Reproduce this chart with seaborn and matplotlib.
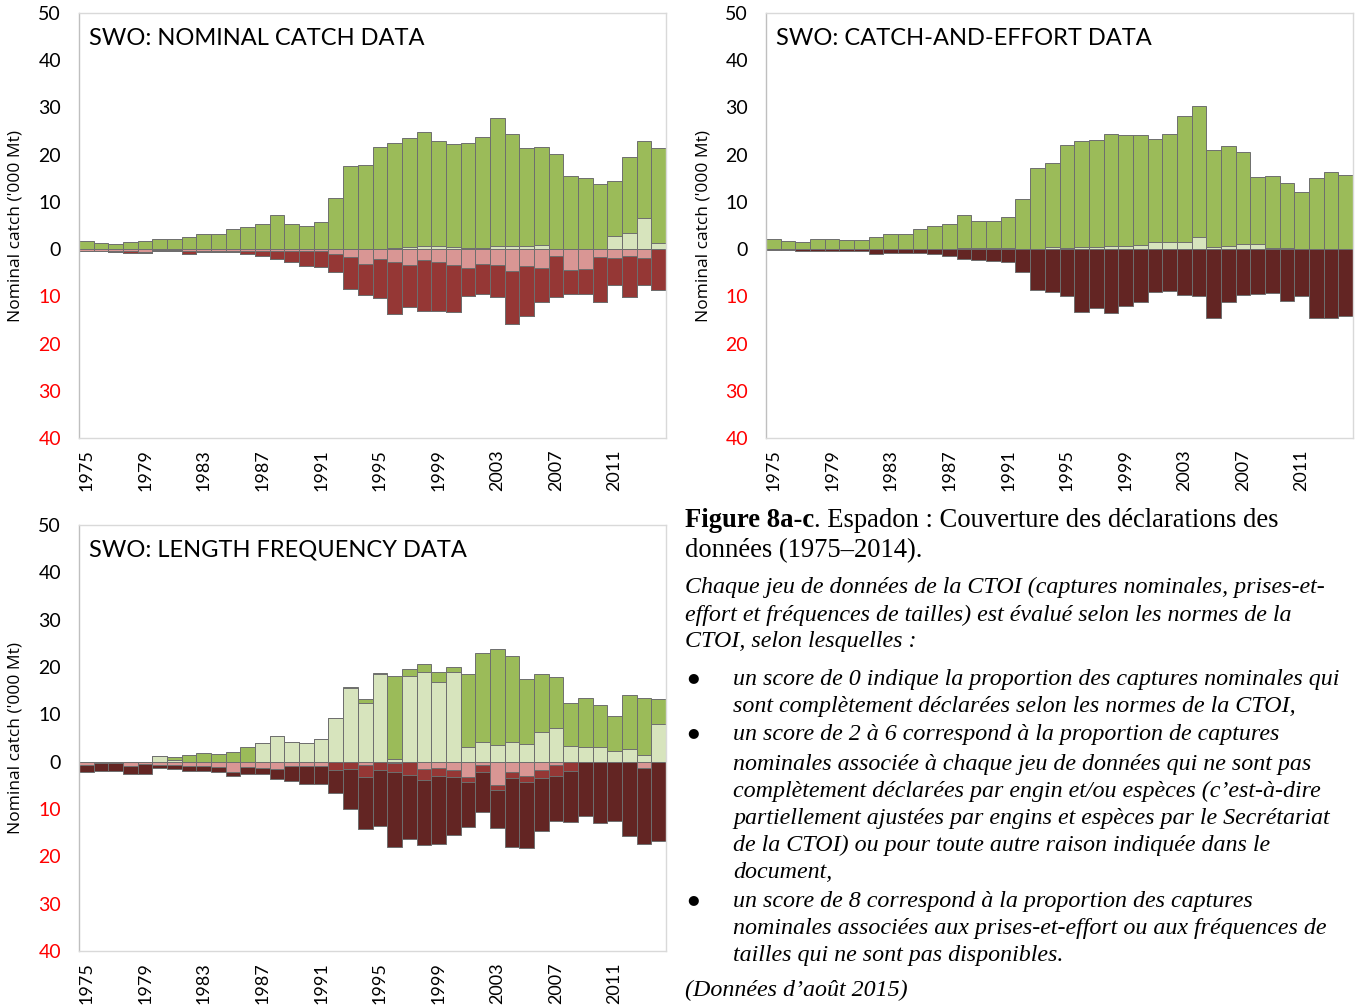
import matplotlib
matplotlib.use("Agg")
import matplotlib.pyplot as plt
import seaborn as sns
import numpy as np
import pandas as pd

# ---------------- data ----------------
years = list(range(1975, 2015))

# Panel a: nominal catch ('000 t) by quality score
nc_score0 = [1.8, 1.3, 1.1, 1.5, 1.8, 2.1, 2.1, 2.5, 3.2, 3.1, 4.2, 4.6, 5.3, 7.2, 5.3, 4.9, 5.7, 10.8, 17.6, 17.8,
             21.6, 22.2, 23.0, 24.2, 22.1, 21.8, 22.2, 23.5, 27.1, 23.7, 20.8, 20.7, 20.1, 15.4, 15.1, 13.7, 11.7, 16.1, 16.3, 20.2]
nc_score2 = [0, 0, 0, 0, 0, 0, 0, 0, 0, 0, 0, 0, 0, 0, 0, 0, 0, 0, 0, 0,
             0, 0.3, 0.5, 0.7, 0.7, 0.4, 0.3, 0.3, 0.7, 0.7, 0.6, 0.9, 0, 0, 0, 0, 2.7, 3.5, 6.6, 1.2]
nc_score4 = [0.3, 0.3, 0.3, 0.5, 0.7, 0.1, 0.1, 0.4, 0.3, 0.3, 0.3, 0.3, 0.3, 0.3, 0.3, 0.4, 0.5, 1.0, 1.7, 3.2,
             2.0, 2.7, 3.3, 2.4, 2.8, 3.3, 3.9, 3.2, 3.3, 4.6, 3.5, 3.9, 1.4, 4.4, 4.2, 1.7, 1.8, 1.5, 1.8, 0.0]
nc_score6 = [0.2, 0.2, 0.3, 0.35, 0.2, 0.3, 0.3, 0.6, 0.3, 0.3, 0.4, 0.7, 1.1, 1.7, 2.5, 3.1, 3.3, 3.9, 6.8, 6.6,
             8.4, 11.0, 9.0, 10.7, 10.4, 10.0, 6.0, 6.4, 6.9, 11.2, 10.7, 7.4, 8.7, 5.0, 5.4, 9.5, 5.9, 8.6, 5.9, 8.7]
nc_score8 = [0] * 40

# Panel b: catch-and-effort data
ce_score0 = [2.1, 1.8, 1.6, 2.1, 2.2, 2.0, 2.0, 2.5, 3.2, 3.1, 4.2, 4.7, 5.2, 6.9, 5.6, 5.6, 6.5, 10.7, 17.1, 17.8,
             21.7, 22.4, 22.6, 23.8, 23.5, 23.3, 22.0, 23.0, 26.6, 27.8, 20.5, 21.2, 19.5, 14.3, 15.3, 13.7, 12.1, 15.0, 16.3, 15.6]
ce_score2 = [0, 0, 0, 0, 0, 0, 0, 0, 0, 0, 0, 0.1, 0.1, 0.3, 0.3, 0.3, 0.2, 0, 0, 0.4,
             0.3, 0.4, 0.4, 0.6, 0.6, 0.9, 1.4, 1.4, 1.6, 2.5, 0.5, 0.6, 1.0, 1.0, 0.2, 0.2, 0, 0, 0, 0]
ce_score4 = [0] * 40
ce_score6 = [0] * 40
ce_score8 = [0.1, 0.1, 0.3, 0.3, 0.4, 0.5, 0.5, 1.0, 0.8, 0.8, 0.8, 1.1, 1.4, 2.0, 2.4, 2.6, 2.7, 4.9, 8.6, 9.1,
             9.9, 13.3, 12.5, 13.5, 12.0, 11.2, 9.1, 8.9, 9.7, 9.9, 14.6, 11.3, 9.8, 9.6, 9.3, 11.0, 9.9, 14.6, 14.5, 14.2]

# Panel c: length frequency data
lf_score0 = [0, 0, 0, 0, 0, 0, 0.7, 1.4, 1.8, 1.6, 2.0, 3.1, 0, 0, 0, 0, 0, 0, 0.2, 0.7,
             0.1, 17.7, 1.5, 1.6, 2.0, 1.1, 15.5, 18.7, 20.4, 18.1, 13.7, 12.2, 10.7, 8.9, 10.3, 9.0, 7.4, 11.3, 12.1, 5.3]
lf_score2 = [0, 0, 0, 0, 0, 1.3, 0.3, 0, 0, 0, 0, 0, 3.9, 5.4, 4.1, 3.9, 4.7, 9.2, 15.6, 12.5,
             18.6, 0.5, 18.0, 19.0, 16.9, 19.0, 3.0, 4.2, 3.5, 4.2, 3.8, 6.3, 7.1, 3.4, 3.2, 3.0, 2.2, 2.7, 1.4, 7.9]
lf_score4 = [0.8, 0.3, 0.3, 0.9, 0.4, 0.6, 0.6, 0.9, 1.0, 1.2, 2.2, 1.2, 1.3, 1.5, 1.0, 1.0, 1.0, 0.1, 0.1, 0.6,
             0.1, 0.2, 0.1, 1.5, 1.4, 1.8, 3.2, 0.8, 4.9, 2.2, 3.0, 1.8, 0.8, 0.1, 0, 0, 0, 0, 1.3, 0]
lf_score6 = [0, 0, 0, 0, 0, 0, 0, 0, 0, 0, 0, 0, 0, 0, 0, 0, 0, 1.7, 1.4, 2.6,
             1.7, 2.0, 2.8, 2.4, 1.6, 1.5, 1.1, 1.4, 1.1, 1.3, 1.4, 1.7, 2.2, 1.8, 0, 0, 0, 0, 0, 0]
lf_score8 = [1.4, 1.6, 1.6, 1.6, 2.2, 0.7, 1.0, 1.1, 1.0, 0.9, 0.8, 1.4, 1.4, 2.2, 3.0, 3.7, 3.7, 4.9, 8.6, 11.1,
             11.7, 15.9, 13.5, 13.7, 14.4, 12.1, 9.6, 8.4, 8.1, 14.6, 13.9, 11.1, 9.5, 10.8, 11.4, 12.9, 12.6, 15.8, 16.1, 16.7]

panel_titles = ["SWO: NOMINAL CATCH DATA", "SWO: CATCH-AND-EFFORT DATA", "SWO: LENGTH FREQUENCY DATA"]
y_label = "Nominal catch ('000 Mt)"
y_ticks = [-40, -30, -20, -10, 0, 10, 20, 30, 40, 50]
x_tick_years = list(range(1975, 2012, 4))

# ---------------- style ----------------
C_S0 = "#9bbb59"
C_S2 = "#d7e4bd"
C_S4 = "#d99694"
C_S6 = "#953735"
C_S8 = "#632523"
EDGE = "#6e6e6e"

sns.set_style("white")
plt.rcParams["font.family"] = ["Lato", "DejaVu Sans"]
plt.rcParams["text.color"] = "black"
plt.rcParams["axes.labelcolor"] = "black"
plt.rcParams["xtick.color"] = "black"
plt.rcParams["ytick.color"] = "black"

fig = plt.figure(figsize=(13.59, 10.07), dpi=100)
W, H = 1359.0, 1007.0


def ax_at(l, t, r, b):
    return fig.add_axes([l / W, 1 - b / H, (r - l) / W, (b - t) / H])


axes = [ax_at(79, 13, 666, 438), ax_at(766, 13, 1353, 438), ax_at(79, 525, 666, 951)]

panels = [
    (nc_score0, nc_score2, nc_score4, nc_score6, nc_score8),
    (ce_score0, ce_score2, ce_score4, ce_score6, ce_score8),
    (lf_score0, lf_score2, lf_score4, lf_score6, lf_score8),
]

ylabs = [str(abs(v)) for v in y_ticks]
ycols = ["red" if v < 0 else "black" for v in y_ticks]
yr_str = [str(y) for y in years]

for ax, title, (s0, s2, s4, s6, s8) in zip(axes, panel_titles, panels):
    s0, s2, s4, s6, s8 = map(np.asarray, (s0, s2, s4, s6, s8))
    df = pd.DataFrame({
        "year": yr_str,
        "pos_top": s2 + s0,
        "pos_low": s2,
        "neg_all": -(s4 + s6 + s8),
        "neg_mid": -(s4 + s6),
        "neg_low": -s4,
    })
    layers = [("pos_top", C_S0), ("pos_low", C_S2),
              ("neg_all", C_S8), ("neg_mid", C_S6), ("neg_low", C_S4)]
    for col, colr in layers:
        vals = df[col].to_numpy()
        if np.allclose(vals, 0):
            continue
        sns.barplot(data=df, x="year", y=col, order=yr_str, color=colr, saturation=1,
                    width=1.0, edgecolor=EDGE, linewidth=0.7, errorbar=None, ax=ax)
    ax.set_xlim(-0.5, 39.5)
    ax.set_ylim(-40, 50)
    ax.set_yticks(y_ticks)
    ax.set_yticklabels(ylabs, fontsize=14)
    for lab, c in zip(ax.get_yticklabels(), ycols):
        lab.set_color(c)
    ax.set_xticks([years.index(y) for y in x_tick_years])
    ax.set_xticklabels([str(y) for y in x_tick_years], rotation=90, fontsize=13)
    ax.tick_params(axis="x", length=0, pad=8)
    ax.tick_params(axis="y", length=5, width=1, color="#bfbfbf", direction="out", pad=8)
    ax.set_xlabel("")
    ax.set_ylabel(y_label, fontsize=12.5, family=["Open Sans", "DejaVu Sans"], color="black")
    ax.yaxis.set_label_coords(-55 / 587, 0.5)
    for sp in ax.spines.values():
        sp.set_color("#d9d9d9")
        sp.set_linewidth(1)
    ax.spines["left"].set_color("#bfbfbf")
    ax.text(10 / 587, 0.941, title, transform=ax.transAxes, fontsize=17, va="center", ha="left",
            color="black")

# ---------------- caption text ----------------
serif = ["Liberation Serif", "DejaVu Serif"]
FS = 17.3
FH = 19.2
x0 = 685 / W
xb = 733 / W
xd = 687 / W


def fy(px):
    return 1 - px / H


t1 = fig.text(x0, fy(527), "Figure 8a-c", family=serif, weight="bold", fontsize=FH, va="baseline")
fig.canvas.draw()
bb = t1.get_window_extent(renderer=fig.canvas.get_renderer())
fig.text(bb.x1 / W, fy(527), ". Espadon : Couverture des déclarations des", family=serif,
         fontsize=FH, va="baseline")
fig.text(x0, fy(557), "données (1975–2014).", family=serif, fontsize=FH, va="baseline")

para = [
    (x0, 593, "Chaque jeu de données de la CTOI (captures nominales, prises-et-"),
    (x0, 621, "effort et fréquences de tailles) est évalué selon les normes de la"),
    (x0, 647, "CTOI, selon lesquelles :"),
    (xb, 685, "un score de 0 indique la proportion des captures nominales qui"),
    (xb, 712, "sont complètement déclarées selon les normes de la CTOI,"),
    (xb, 740, "un score de 2 à 6 correspond à la proportion de captures"),
    (xb, 770, "nominales associée à chaque jeu de données qui ne sont pas"),
    (xb, 797, "complètement déclarées par engin et/ou espèces (c’est-à-dire"),
    (xb, 824, "partiellement ajustées par engins et espèces par le Secrétariat"),
    (xb, 851, "de la CTOI) ou pour toute autre raison indiquée dans le"),
    (xb, 878, "document,"),
    (xb, 907, "un score de 8 correspond à la proportion des captures"),
    (xb, 934, "nominales associées aux prises-et-effort ou aux fréquences de"),
    (xb, 961, "tailles qui ne sont pas disponibles."),
    (x0, 996, "(Données d’août 2015)"),
]
for x, ypx, s in para:
    fig.text(x, fy(ypx), s, family=serif, style="italic", fontsize=FS, va="baseline")
for ypx in (685, 740, 907):
    fig.text(xd, fy(ypx - 7), "●", family=["DejaVu Sans"], fontsize=9.5, va="center")

fig.savefig("out.png", dpi=100)
